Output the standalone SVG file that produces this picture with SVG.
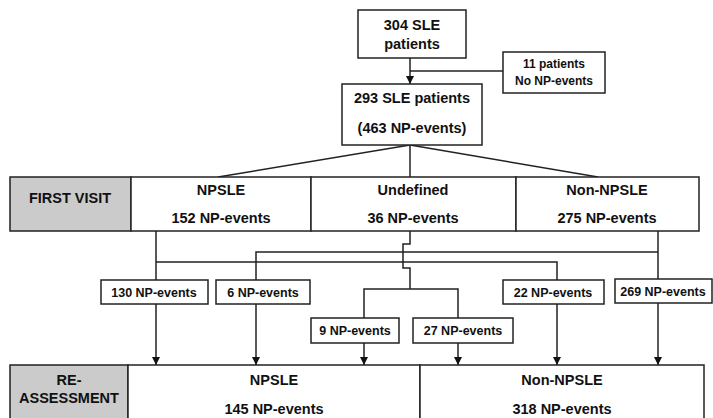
<svg xmlns="http://www.w3.org/2000/svg" width="713" height="418" viewBox="0 0 713 418">
<style>
.box{fill:#fff;stroke:#222;stroke-width:1.5}
.gray{fill:#cbcbcb;stroke:#222;stroke-width:1.5}
.ln{fill:none;stroke:#222;stroke-width:1.5}
text{font-family:"Liberation Sans",Arial,sans-serif;font-weight:bold;fill:#111;text-anchor:middle}
.t14{font-size:14.5px}
.t12{font-size:12.5px}
.t11{font-size:12px}
</style>
<defs>
<marker id="arr" viewBox="0 0 10 10" refX="10" refY="5" markerWidth="8" markerHeight="8" markerUnits="userSpaceOnUse" orient="auto">
<path d="M0,0 L10,5 L0,10 z" fill="#111"/>
</marker>
</defs>
<rect width="713" height="418" fill="#fff"/>
<g id="connectors">
<line class="ln" x1="410" y1="58" x2="410" y2="84" marker-end="url(#arr)"/>
<line class="ln" x1="410" y1="71" x2="503" y2="71"/>
<line class="ln" x1="410" y1="145" x2="218" y2="177"/>
<line class="ln" x1="410" y1="145" x2="410" y2="177"/>
<line class="ln" x1="410" y1="145" x2="598" y2="177"/>
<polyline class="ln" points="156,231 156,280"/>
<polyline class="ln" points="156,262 557,262 557,280"/>
<polyline class="ln" points="658,231 658,279"/>
<polyline class="ln" points="658,252 256,252 256,280"/>
<polyline class="ln" points="410,231 410,244 403,244 403,268 410,268 410,289"/>
<polyline class="ln" points="364,318 364,289 458,289 458,318"/>
<line class="ln" x1="156" y1="304" x2="156" y2="365" marker-end="url(#arr)"/>
<line class="ln" x1="256" y1="304" x2="256" y2="365" marker-end="url(#arr)"/>
<line class="ln" x1="364" y1="343" x2="364" y2="365" marker-end="url(#arr)"/>
<line class="ln" x1="458" y1="343" x2="458" y2="365" marker-end="url(#arr)"/>
<line class="ln" x1="557" y1="304" x2="557" y2="365" marker-end="url(#arr)"/>
<line class="ln" x1="658" y1="303" x2="658" y2="365" marker-end="url(#arr)"/>
</g>
<g id="n304">
<rect class="box" x="358" y="10" width="108" height="48"/>
<text class="t14" x="412" y="30">304 SLE</text>
<text class="t14" x="412" y="49">patients</text>
</g>
<g id="n11">
<rect class="box" x="503" y="52" width="102" height="41"/>
<text class="t11" x="554" y="68">11 patients</text>
<text class="t11" x="554" y="85">No NP-events</text>
</g>
<g id="n293">
<rect class="box" x="342" y="84" width="140" height="61"/>
<text class="t14" x="412" y="103">293 SLE patients</text>
<text class="t14" x="412" y="133">(463 NP-events)</text>
</g>
<g id="firstvisit">
<rect class="gray" x="10" y="177" width="121" height="54"/>
<text class="t14" x="70" y="203">FIRST VISIT</text>
</g>
<g id="fv-npsle">
<rect class="box" x="131" y="177" width="180" height="54"/>
<text class="t14" x="221" y="195">NPSLE</text>
<text class="t14" x="221" y="223">152 NP-events</text>
</g>
<g id="fv-undef">
<rect class="box" x="311" y="177" width="205" height="54"/>
<text class="t14" x="413" y="195">Undefined</text>
<text class="t14" x="413" y="223">36 NP-events</text>
</g>
<g id="fv-non">
<rect class="box" x="516" y="177" width="183" height="54"/>
<text class="t14" x="607" y="195">Non-NPSLE</text>
<text class="t14" x="607" y="223">275 NP-events</text>
</g>
<g id="b130">
<rect class="box" x="101" y="280" width="107" height="24"/>
<text class="t12" x="154" y="296.5">130 NP-events</text>
</g>
<g id="b6">
<rect class="box" x="216" y="280" width="94" height="24"/>
<text class="t12" x="263" y="296.5">6 NP-events</text>
</g>
<g id="b9">
<rect class="box" x="311" y="318" width="88" height="25"/>
<text class="t12" x="355" y="335">9 NP-events</text>
</g>
<g id="b27">
<rect class="box" x="413" y="318" width="100" height="25"/>
<text class="t12" x="463" y="335">27 NP-events</text>
</g>
<g id="b22">
<rect class="box" x="503" y="280" width="101" height="24"/>
<text class="t12" x="553" y="296.5">22 NP-events</text>
</g>
<g id="b269">
<rect class="box" x="615" y="279" width="97" height="24"/>
<text class="t12" x="663" y="295.5">269 NP-events</text>
</g>
<g id="reassess">
<rect class="gray" x="10" y="365" width="118" height="60"/>
<text class="t14" x="69" y="385">RE-</text>
<text class="t14" x="69" y="403">ASSESSMENT</text>
</g>
<g id="ra-npsle">
<rect class="box" x="128" y="365" width="292" height="60"/>
<text class="t14" x="274" y="385">NPSLE</text>
<text class="t14" x="274" y="414">145 NP-events</text>
</g>
<g id="ra-non">
<rect class="box" x="420" y="365" width="284" height="60"/>
<text class="t14" x="562" y="385">Non-NPSLE</text>
<text class="t14" x="562" y="414">318 NP-events</text>
</g>
</svg>
